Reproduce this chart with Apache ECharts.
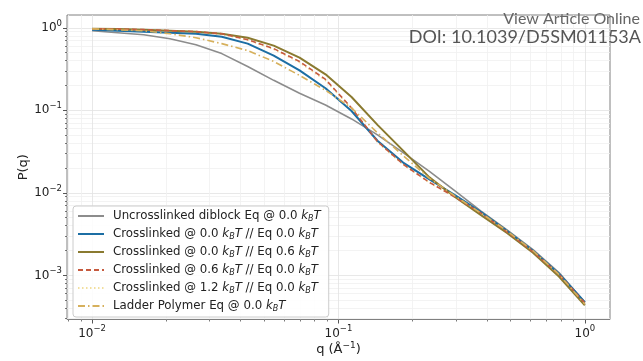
<!DOCTYPE html>
<html lang="en">
<head>
<meta charset="UTF-8">
<title>P(q)</title>
<script src="https://cdn.jsdelivr.net/npm/echarts@6/dist/echarts.min.js"></script>
</head>
<body style="margin:0">
<div id="main" style="width:643px;height:361px;"></div>
<script type="text/javascript">
// q grid (1/Angstrom)
var qVals = [0.0100, 0.0127, 0.0162, 0.0207, 0.0264, 0.0336, 0.0428, 0.0546, 0.0695, 0.0886,
             0.113, 0.144, 0.183, 0.234, 0.298, 0.379, 0.483, 0.616, 0.785, 1.0];

var uncrosslinked = [0.920, 0.871, 0.824, 0.738, 0.625, 0.487, 0.340, 0.231, 0.161, 0.116,
                     0.0787, 0.0505, 0.0307, 0.0182, 0.0105, 0.00601, 0.00356, 0.00205, 0.00108, 0.000473];
var cross00eq00 = [0.946, 0.920, 0.895, 0.871, 0.847, 0.780, 0.643, 0.461, 0.305, 0.185,
                   0.0982, 0.0428, 0.0233, 0.0146, 0.00936, 0.00585, 0.00346, 0.00199, 0.00105, 0.000473];
var cross00eq06 = [0.975, 0.965, 0.946, 0.920, 0.895, 0.847, 0.759, 0.608, 0.436, 0.273,
                   0.145, 0.0667, 0.0325, 0.0154, 0.00885, 0.00538, 0.00327, 0.00188, 0.00097, 0.000435];
var cross06eq00 = [0.975, 0.965, 0.950, 0.925, 0.900, 0.847, 0.718, 0.560, 0.391, 0.237,
                   0.107, 0.0419, 0.0222, 0.0134, 0.00885, 0.00569, 0.00337, 0.00194, 0.00103, 0.000463];
var cross12eq00 = [0.970, 0.960, 0.945, 0.920, 0.895, 0.840, 0.710, 0.550, 0.380, 0.230,
                   0.105, 0.0410, 0.0220, 0.0133, 0.00880, 0.00560, 0.00330, 0.00190, 0.00102, 0.000455];
var ladder = [0.972, 0.946, 0.920, 0.847, 0.759, 0.643, 0.530, 0.391, 0.265, 0.175,
              0.107, 0.0534, 0.0283, 0.0150, 0.0091, 0.00569, 0.00346, 0.00199, 0.00103, 0.000448];

var seriesNames = [
  'Uncrosslinked diblock Eq @ 0.0 kBT',
  'Crosslinked @ 0.0 kBT // Eq 0.0 kBT',
  'Crosslinked @ 0.0 kBT // Eq 0.6 kBT',
  'Crosslinked @ 0.6 kBT // Eq 0.0 kBT',
  'Crosslinked @ 1.2 kBT // Eq 0.0 kBT',
  'Ladder Polymer Eq @ 0.0 kBT'
];

// tick positions
var xMajor = [0.01, 0.1, 1];
var xMinor = [0.008, 0.009, 0.02, 0.03, 0.04, 0.05, 0.06, 0.07, 0.08, 0.09,
              0.2, 0.3, 0.4, 0.5, 0.6, 0.7, 0.8, 0.9];
var yMajor = [0.001, 0.01, 0.1, 1];
var yMinor = [0.0003, 0.0004, 0.0005, 0.0006, 0.0007, 0.0008, 0.0009,
              0.002, 0.003, 0.004, 0.005, 0.006, 0.007, 0.008, 0.009,
              0.02, 0.03, 0.04, 0.05, 0.06, 0.07, 0.08, 0.09,
              0.2, 0.3, 0.4, 0.5, 0.6, 0.7, 0.8, 0.9];

var X_MIN = 0.00791, X_MAX = 1.265;
var Y_MIN = 0.000292, Y_MAX = 1.43;

var font = 'DejaVu Sans';

function pairs(ys) {
  return qVals.map(function (x, i) { return [x, ys[i]]; });
}

function powLabel(v) {
  var e = Math.round(Math.log10(v));
  return '{b|10}{s|' + (e < 0 ? '\u2212' + (-e) : e) + '}';
}

var tickRich = {
  b: { fontFamily: font, fontSize: 12, color: '#222', lineHeight: 18, verticalAlign: 'middle' },
  s: { fontFamily: font, fontSize: 8.5, color: '#222', lineHeight: 18, verticalAlign: 'top' }
};

function majorAxis(isX) {
  return {
    type: 'log', logBase: 10,
    position: isX ? 'bottom' : 'left',
    min: isX ? X_MIN : Y_MIN, max: isX ? X_MAX : Y_MAX,
    axisLine: { show: false },
    axisTick: { show: true, length: 4, customValues: isX ? xMajor : yMajor,
                lineStyle: { color: '#555', width: 1 } },
    axisLabel: { customValues: isX ? xMajor : yMajor, formatter: powLabel, rich: tickRich,
                 margin: 5 },
    splitLine: { show: true, lineStyle: { color: '#e2e2e2', width: 0.8 } },
    name: isX ? 'q (\u00c5{s|\u22121})' : 'P(q)',
    nameLocation: 'middle',
    nameMoveOverlap: false,
    nameGap: isX ? 22 : 37,
    nameTextStyle: {
      fontFamily: font, fontSize: 13, color: '#222',
      rich: { s: { fontFamily: font, fontSize: 9, color: '#222', verticalAlign: 'top', lineHeight: 16 } }
    }
  };
}

function minorAxis(isX) {
  return {
    type: 'log', logBase: 10,
    position: isX ? 'bottom' : 'left',
    min: isX ? X_MIN : Y_MIN, max: isX ? X_MAX : Y_MAX,
    axisLine: { show: false },
    axisTick: { show: true, length: 2, customValues: isX ? xMinor : yMinor,
                lineStyle: { color: '#555', width: 0.8 } },
    axisLabel: { show: false },
    splitLine: { show: true, lineStyle: { color: '#f0f0f0', width: 0.8 } }
  };
}

var styles = [
  { color: '#8c8c8c', width: 1.6, type: 'solid' },
  { color: '#1c6ea4', width: 2, type: 'solid' },
  { color: '#8a7a30', width: 2, type: 'solid' },
  { color: '#c65a3e', width: 1.6, type: [5, 3] },
  { color: '#f2df9e', width: 1.6, type: [1.5, 2.5] },
  { color: '#d6b05c', width: 1.6, type: [7, 3, 1.5, 3] }
];
var dataSets = [uncrosslinked, cross00eq00, cross00eq06, cross06eq00, cross12eq00, ladder];

var series = dataSets.map(function (d, i) {
  return {
    name: seriesNames[i],
    type: 'line',
    xAxisIndex: 0, yAxisIndex: 0,
    data: pairs(d),
    symbol: 'none',
    smooth: false,
    z: 3 + (i === 4 ? 0 : i),
    lineStyle: { color: styles[i].color, width: styles[i].width, type: styles[i].type },
    itemStyle: { color: styles[i].color }
  };
});

var myChart = echarts.init(document.getElementById('main'));
myChart.setOption({
  animation: false,
  backgroundColor: '#fff',
  grid: { left: 67, right: 33, top: 15, bottom: 38, show: true,
          borderColor: '#808080', borderWidth: 1 },
  xAxis: [majorAxis(true), minorAxis(true)],
  yAxis: [majorAxis(false), minorAxis(false)],
  legend: {
    orient: 'vertical', left: 73, top: 206,
    data: seriesNames,
    itemWidth: 26, itemHeight: 10, itemGap: 4,
    padding: [3, 8, 4, 4],
    backgroundColor: 'rgba(255,255,255,0.85)',
    borderColor: '#cccccc', borderWidth: 1, borderRadius: 3,
    itemStyle: { color: 'transparent', borderWidth: 0, opacity: 0 },
    formatter: function (name) {
      return name.replace(/kBT/g, '{i|k}{sub|B}{i|T}');
    },
    textStyle: {
      fontFamily: font, fontSize: 11.8, color: '#222', lineHeight: 14,
      padding: [0, 0, 0, 4],
      rich: {
        i: { fontFamily: font, fontSize: 11.8, fontStyle: 'italic', color: '#222', lineHeight: 14 },
        sub: { fontFamily: font, fontSize: 8, fontStyle: 'italic', color: '#222', lineHeight: 11, verticalAlign: 'bottom' }
      }
    }
  },
  graphic: [
    { type: 'text', right: 3, top: 11, z: 100,
      style: { text: 'View Article Online', fontFamily: 'Lato', fontSize: 16, fill: '#666' } },
    { type: 'text', right: 2, top: 28, z: 100,
      style: { text: 'DOI: 10.1039/D5SM01153A', fontFamily: 'Lato', fontSize: 18, fill: '#555' } }
  ],
  series: series
});
</script>
</body>
</html>
